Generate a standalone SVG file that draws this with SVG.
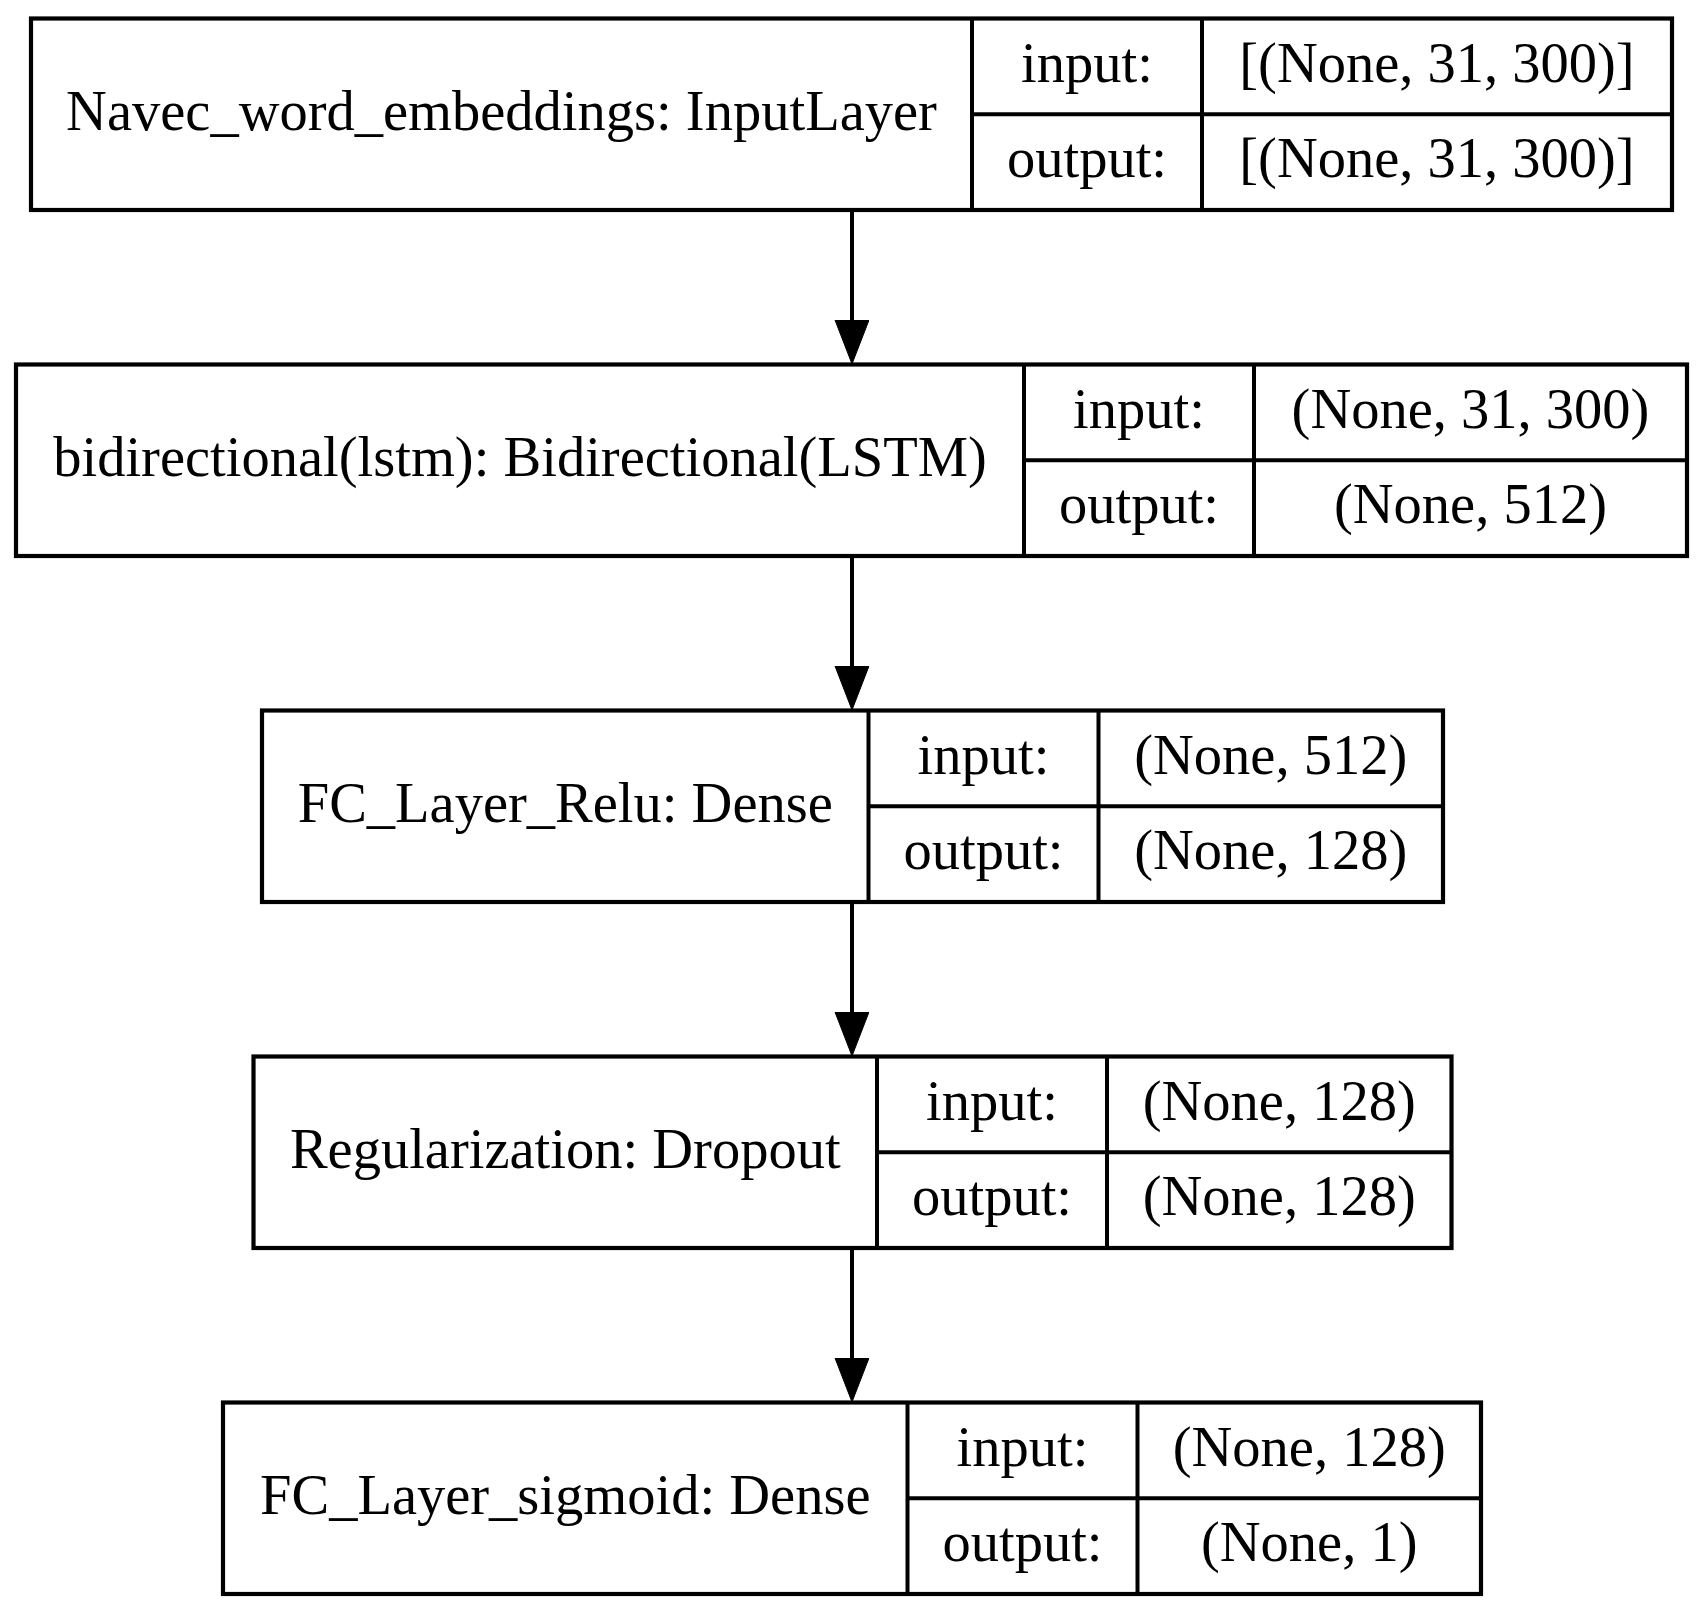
<svg xmlns="http://www.w3.org/2000/svg" width="1704" height="1613" viewBox="0 0 1704 1613">
<style>
.box{fill:none;stroke:#000;stroke-width:4.2}
.ln{stroke:#000;stroke-width:4;fill:none}
text{font-family:"Liberation Serif","Times New Roman",serif;font-size:56.5px;fill:#000;text-anchor:middle}
</style>
<defs>
<marker id="ah" markerUnits="userSpaceOnUse" markerWidth="46" markerHeight="36" refX="1" refY="17" orient="auto" viewBox="0 0 46 36">
<path d="M0,0 L44,17 L0,34 Z" fill="#000" stroke="#000" stroke-width="1"/>
</marker>
</defs>
<rect width="1704" height="1613" fill="#fff"/>
<g id="connectors">
<line class="ln" x1="852" y1="210" x2="852" y2="321" marker-end="url(#ah)"/>
<line class="ln" x1="852" y1="556" x2="852" y2="667" marker-end="url(#ah)"/>
<line class="ln" x1="852" y1="902" x2="852" y2="1013" marker-end="url(#ah)"/>
<line class="ln" x1="852" y1="1248" x2="852" y2="1359" marker-end="url(#ah)"/>
</g>
<g id="node1">
<rect class="box" x="31" y="18.5" width="1641" height="191.5"/>
<line class="ln" x1="972" y1="18.5" x2="972" y2="210"/>
<line class="ln" x1="1202" y1="18.5" x2="1202" y2="210"/>
<line class="ln" x1="972" y1="114.25" x2="1672" y2="114.25"/>
<text x="501.5" y="129.5">Navec_word_embeddings: InputLayer</text>
<text x="1087" y="82">input:</text>
<text x="1087" y="177">output:</text>
<text x="1437" y="82">[(None, 31, 300)]</text>
<text x="1437" y="177">[(None, 31, 300)]</text>
</g>
<g id="node2">
<rect class="box" x="16" y="364.5" width="1671" height="191.5"/>
<line class="ln" x1="1024" y1="364.5" x2="1024" y2="556"/>
<line class="ln" x1="1254" y1="364.5" x2="1254" y2="556"/>
<line class="ln" x1="1024" y1="460.25" x2="1687" y2="460.25"/>
<text x="520" y="475.5">bidirectional(lstm): Bidirectional(LSTM)</text>
<text x="1139" y="428">input:</text>
<text x="1139" y="523">output:</text>
<text x="1470.5" y="428">(None, 31, 300)</text>
<text x="1470.5" y="523">(None, 512)</text>
</g>
<g id="node3">
<rect class="box" x="262" y="710.5" width="1181" height="191.5"/>
<line class="ln" x1="868.5" y1="710.5" x2="868.5" y2="902"/>
<line class="ln" x1="1098.5" y1="710.5" x2="1098.5" y2="902"/>
<line class="ln" x1="868.5" y1="806.25" x2="1443" y2="806.25"/>
<text x="565.25" y="821.5">FC_Layer_Relu: Dense</text>
<text x="983.5" y="774">input:</text>
<text x="983.5" y="869">output:</text>
<text x="1270.75" y="774">(None, 512)</text>
<text x="1270.75" y="869">(None, 128)</text>
</g>
<g id="node4">
<rect class="box" x="253.5" y="1056.5" width="1198" height="191.5"/>
<line class="ln" x1="877" y1="1056.5" x2="877" y2="1248"/>
<line class="ln" x1="1107" y1="1056.5" x2="1107" y2="1248"/>
<line class="ln" x1="877" y1="1152.25" x2="1451.5" y2="1152.25"/>
<text x="565.25" y="1167.5">Regularization: Dropout</text>
<text x="992" y="1120">input:</text>
<text x="992" y="1215">output:</text>
<text x="1279.25" y="1120">(None, 128)</text>
<text x="1279.25" y="1215">(None, 128)</text>
</g>
<g id="node5">
<rect class="box" x="223" y="1402.5" width="1258" height="191.5"/>
<line class="ln" x1="907.5" y1="1402.5" x2="907.5" y2="1594"/>
<line class="ln" x1="1137.5" y1="1402.5" x2="1137.5" y2="1594"/>
<line class="ln" x1="907.5" y1="1498.25" x2="1481" y2="1498.25"/>
<text x="565.25" y="1513.5">FC_Layer_sigmoid: Dense</text>
<text x="1022.5" y="1466">input:</text>
<text x="1022.5" y="1561">output:</text>
<text x="1309.25" y="1466">(None, 128)</text>
<text x="1309.25" y="1561">(None, 1)</text>
</g>
</svg>
